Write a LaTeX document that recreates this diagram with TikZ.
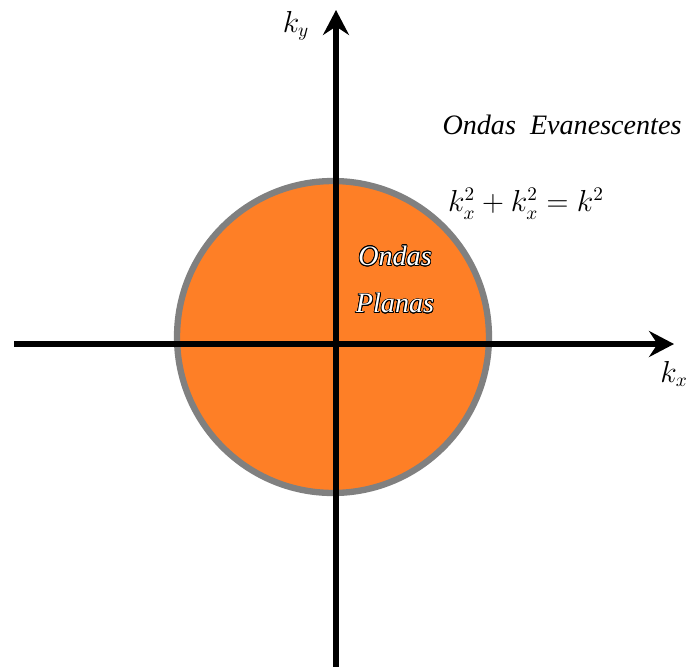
\documentclass[tikz,border=0pt]{standalone}
\usepackage{fontspec}
\setmainfont{Liberation Serif}
\usepackage{contour}
\contourlength{0.45pt}
\usetikzlibrary{arrows.meta}
\definecolor{WaveOrange}{RGB}{254,127,38}
\definecolor{WaveGray}{RGB}{128,128,128}
\tikzset{
  wave/axis/.style={line width=3.9pt, draw=black, -{Stealth[length=0.5cm,width=0.52cm,inset=0.17cm]}},
  wave/disk/.style={circle, draw=WaveGray, line width=3.6pt, fill=WaveOrange},
  wave/label/.style={font=\itshape\fontsize{16}{19}\selectfont, text=black, inner sep=0pt},
  wave/inlabel/.style={font=\itshape\fontsize{16}{19}\selectfont, text=white, inner sep=0pt, align=center}
}

\begin{document}
\begin{tikzpicture}[x=0.02cm,y=-0.02cm]
  \useasboundingbox (0,0) rectangle (689,666);
  % disk of propagating waves
  \node[wave/disk, minimum size=6.24cm] (disk) at (333,337) {};
  % axes
  \coordinate (xstart) at (14,344);
  \coordinate (xend) at (674,344);
  \coordinate (ystart) at (336,668);
  \coordinate (yend) at (336,10);
  \draw[wave/axis] (xstart) -- (xend);
  \draw[wave/axis] (ystart) -- (yend);
  % labels
  \node[wave/label] (ky) at (296,26) {$k_y$};
  \node[wave/label, anchor=east] (kx) at (688,374) {$k_x$};
  \node[wave/label] (evan) at (562,125) {Ondas\ \ Evanescentes};
  \node[wave/label] (circ) at (526,204) {$k_x^2+k_x^2=k^2$};
  \node[wave/inlabel] (planas) at (395,280) {\contour{black}{Ondas}\\[8pt]\contour{black}{Planas}};
\end{tikzpicture}
\end{document}
